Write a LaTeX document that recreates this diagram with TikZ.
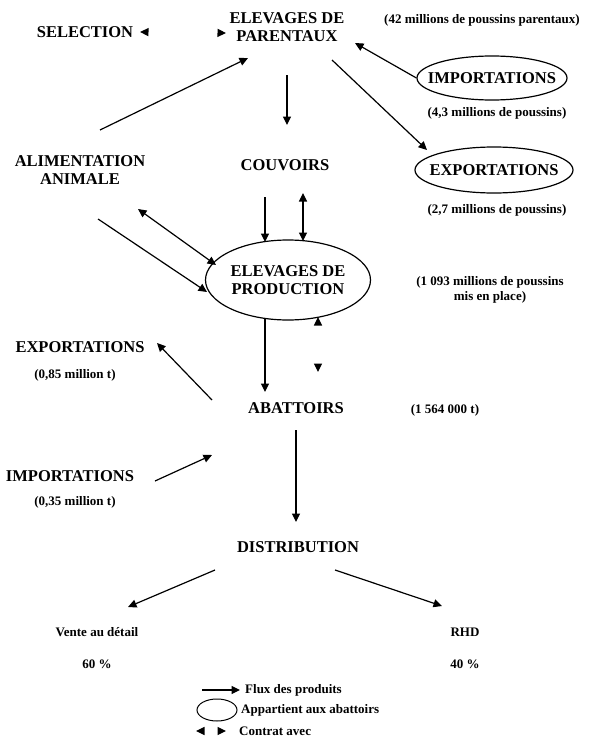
\documentclass[tikz,border=0pt]{standalone}
\usepackage{fontspec}
\setmainfont{Liberation Serif}
\usetikzlibrary{arrows.meta,shapes.geometric}
\tikzset{
  lab/.style={font=\fontsize{16.5}{17.5}\selectfont\bfseries,align=center,inner sep=1pt},
  note/.style={font=\fontsize{13}{15}\selectfont\bfseries,align=center,inner sep=1pt},
  pool/.style={draw,ellipse,line width=1.2pt,inner sep=0pt},
  flux/.style={-{Triangle[length=8.5pt,width=8pt]},line width=1.2pt},
  contrat/.style={{Triangle[length=8.5pt,width=8pt]}-{Triangle[length=8.5pt,width=8pt]},line width=1.2pt},
  pacte/.style={contrat,dash pattern=on 0pt off 600pt}
}
\begin{document}
\begin{tikzpicture}[x=1pt,y=-1pt]
\useasboundingbox (0,0) rectangle (594,752);
% amont
\node[lab] (sel) at (85,32) {SELECTION};
\node[lab] (par) at (287,27) {ELEVAGES DE\\PARENTAUX};
\node[note] (parn) at (482,20) {(42 millions de poussins parentaux)};
\node[pool,minimum width=150,minimum height=44] (imp) at (492,78) {};
\node[lab] (impl) at (imp) {IMPORTATIONS};
\node[note] (impn) at (497,113) {(4,3 millions de poussins)};
\node[pool,minimum width=158,minimum height=46] (exp) at (494,170) {};
\node[lab] (expl) at (exp) {EXPORTATIONS};
\node[note] (expn) at (497,210) {(2,7 millions de poussins)};
\node[lab] (alim) at (80,170) {ALIMENTATION\\ANIMALE};
\node[lab] (couv) at (285,165) {COUVOIRS};
\node[pool,minimum width=165,minimum height=80] (prod) at (288,280) {};
\node[lab] (prodl) at (prod) {ELEVAGES DE\\PRODUCTION};
\node[note] (prodn) at (490,290) {(1 093 millions de poussins\\mis en place)};
% aval
\node[lab] (expt) at (80,347) {EXPORTATIONS};
\node[note] (exptn) at (75,375) {(0,85 million t)};
\node[lab] (abat) at (296,408) {ABATTOIRS};
\node[note] (abatn) at (445,410) {(1 564 000 t)};
\node[lab] (impt) at (70,476) {IMPORTATIONS};
\node[note] (imptn) at (75,502) {(0,35 million t)};
\node[lab] (dist) at (298,547) {DISTRIBUTION};
\node[note] (vente) at (97,632) {Vente au détail};
\node[note] (ventep) at (97,664) {60 \%};
\node[note] (rhd) at (465,632) {RHD};
\node[note] (rhdp) at (465,664) {40 \%};
% flux
\draw[pacte] ([shift={(55,0)}]sel.center) -- ([shift={(-61,6)}]par.center);
\draw[flux] ([shift={(20,-40)}]alim.center) -- ([shift={(-39,31)}]par.center);
\draw[flux] ([shift={(0,48)}]par.center) -- ([shift={(2,-40)}]couv.center);
\draw[flux] (imp.west) -- ([shift={(68,16)}]par.center);
\draw[flux] ([shift={(45,33)}]par.center) -- ([shift={(-67,-20)}]exp.center);
\draw[flux] ([shift={(-20,32)}]couv.center) -- ([shift={(-23,-38)}]prod.center);
\draw[contrat] ([shift={(18,28)}]couv.center) -- ([shift={(15,-39)}]prod.center);
\draw[contrat] ([shift={(58,39)}]alim.center) -- ([shift={(-72,-15)}]prod.center);
\draw[flux] ([shift={(18,49)}]alim.center) -- ([shift={(-81,12)}]prod.center);
\draw[flux] ([shift={(-23,38)}]prod.center) -- ([shift={(-31,-16)}]abat.center);
\draw[pacte] ([shift={(30,37)}]prod.center) -- ([shift={(22,-36)}]abat.center);
\draw[flux] ([shift={(-84,-8)}]abat.center) -- ([shift={(77,-4)}]expt.center);
\draw[flux] ([shift={(85,5)}]impt.center) -- ([shift={(-84,47)}]abat.center);
\draw[flux] ([shift={(0,22)}]abat.center) -- ([shift={(-2,-25)}]dist.center);
\draw[flux] ([shift={(-83,23)}]dist.center) -- ([shift={(31,-25)}]vente.center);
\draw[flux] ([shift={(37,23)}]dist.center) -- ([shift={(-23,-26)}]rhd.center);
% legende
\node[note,anchor=west] (lflux) at (244,690) {Flux des produits};
\draw[flux] ([shift={(-42,0)}]lflux.west) -- ([shift={(-4,0)}]lflux.west);
\node[pool,line width=1pt,minimum width=40,minimum height=22] (lpool) at (217,710) {};
\node[note,anchor=west] (lapp) at (240,710) {Appartient aux abattoirs};
\node[note,anchor=west] (lcon) at (238,731) {Contrat avec};
\draw[pacte] ([shift={(-42,0)}]lcon.west) -- ([shift={(-12,0)}]lcon.west);
\end{tikzpicture}
\end{document}
